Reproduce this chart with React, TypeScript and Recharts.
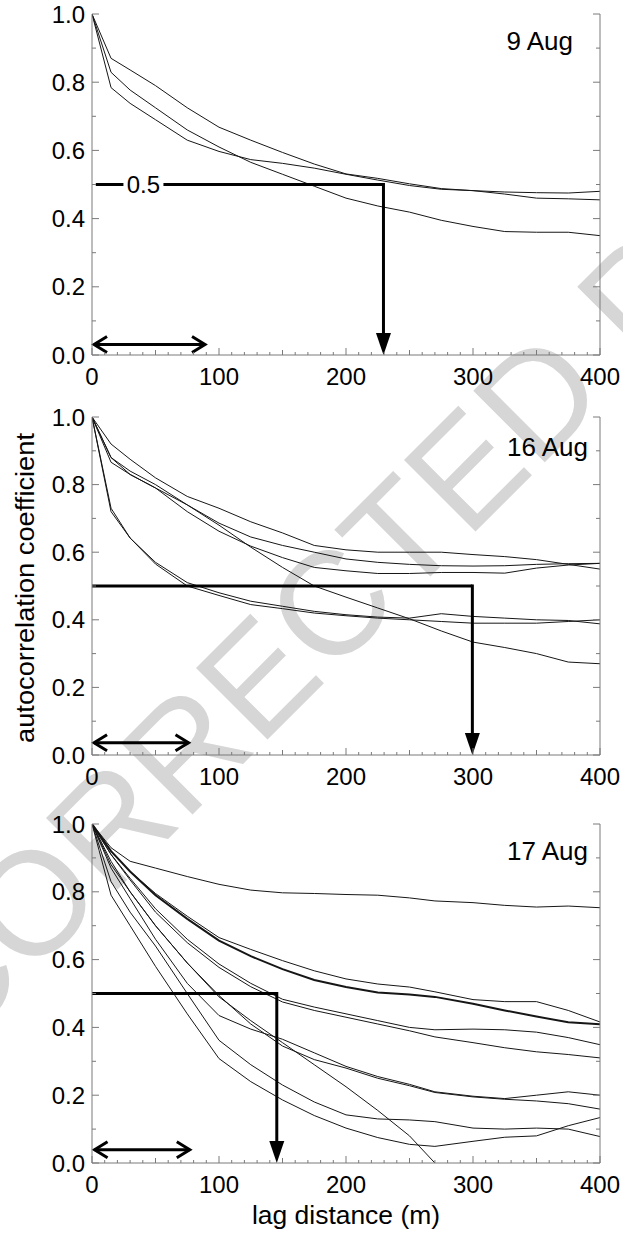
import React from 'react';
import { LineChart, Line, XAxis, YAxis, ReferenceLine, ReferenceDot } from 'recharts';

const FONT = '"Liberation Sans", Arial, Helvetica, sans-serif';
const INK = '#161616';
const FRAME = '#7a7a7a';

// ---------- data ----------
const yTicks = [0, 0.1, 0.2, 0.3, 0.4, 0.5, 0.6, 0.7, 0.8, 0.9, 1.0];
const xTicks = [0, 10, 20, 30, 40, 50, 60, 70, 80, 90, 100, 110, 120, 130, 140, 150, 160, 170, 180, 190, 200, 210, 220, 230, 240, 250, 260, 270, 280, 290, 300, 310, 320, 330, 340, 350, 360, 370, 380, 390, 400];

// 9 Aug
const lags9 = [0, 15, 30, 50, 75, 100, 125, 150, 175, 200, 225, 250, 275, 300, 325, 350, 375, 400];
const aug9_1 = [1, 0.870, 0.836, 0.79, 0.725, 0.668, 0.63, 0.594, 0.56, 0.531, 0.518, 0.502, 0.488, 0.482, 0.472, 0.46, 0.458, 0.455];
const aug9_2 = [1, 0.829, 0.777, 0.725, 0.66, 0.61, 0.565, 0.53, 0.495, 0.46, 0.437, 0.419, 0.395, 0.377, 0.362, 0.36, 0.36, 0.35];
const aug9_3 = [1, 0.784, 0.738, 0.69, 0.63, 0.597, 0.573, 0.562, 0.548, 0.53, 0.513, 0.497, 0.486, 0.482, 0.478, 0.476, 0.475, 0.48];

// 16 Aug
const lags16 = [0, 15, 30, 50, 75, 100, 125, 150, 175, 200, 225, 250, 275, 300, 325, 350, 375, 400];
const aug16_1 = [1, 0.92, 0.875, 0.82, 0.765, 0.73, 0.69, 0.657, 0.62, 0.607, 0.60, 0.60, 0.60, 0.593, 0.587, 0.578, 0.564, 0.55];
const aug16_2 = [1, 0.88, 0.84, 0.80, 0.74, 0.686, 0.645, 0.62, 0.60, 0.58, 0.57, 0.564, 0.56, 0.559, 0.56, 0.564, 0.566, 0.567];
const aug16_3 = [1, 0.866, 0.83, 0.79, 0.72, 0.662, 0.618, 0.584, 0.555, 0.545, 0.537, 0.537, 0.54, 0.54, 0.538, 0.553, 0.562, 0.567];
const aug16_4 = [1, 0.88, 0.83, 0.79, 0.74, 0.68, 0.615, 0.555, 0.50, 0.467, 0.435, 0.403, 0.367, 0.334, 0.318, 0.30, 0.275, 0.27];
const aug16_5 = [1, 0.73, 0.642, 0.57, 0.51, 0.48, 0.455, 0.44, 0.425, 0.415, 0.408, 0.405, 0.418, 0.41, 0.405, 0.40, 0.398, 0.388];
const aug16_6 = [1, 0.72, 0.642, 0.565, 0.50, 0.472, 0.445, 0.433, 0.42, 0.412, 0.405, 0.40, 0.395, 0.39, 0.39, 0.39, 0.395, 0.40];

// 17 Aug
const lags17 = [0, 15, 30, 50, 75, 100, 125, 150, 175, 200, 225, 250, 270, 300, 325, 350, 375, 400];
const aug17_1 = [1, 0.93, 0.89, 0.87, 0.845, 0.822, 0.805, 0.797, 0.795, 0.792, 0.79, 0.782, 0.773, 0.768, 0.76, 0.755, 0.758, 0.753];
const aug17_2 = [1, 0.92, 0.86, 0.79, 0.72, 0.656, 0.61, 0.572, 0.54, 0.519, 0.503, 0.497, 0.49, 0.47, 0.45, 0.432, 0.415, 0.409];
const aug17_3 = [1, 0.92, 0.86, 0.795, 0.728, 0.665, 0.63, 0.597, 0.567, 0.543, 0.528, 0.519, 0.505, 0.482, 0.476, 0.476, 0.45, 0.416];
const aug17_4 = [1, 0.91, 0.84, 0.75, 0.66, 0.587, 0.53, 0.483, 0.46, 0.44, 0.42, 0.40, 0.393, 0.395, 0.393, 0.386, 0.37, 0.349];
const aug17_5 = [1, 0.91, 0.835, 0.74, 0.65, 0.577, 0.52, 0.475, 0.45, 0.43, 0.41, 0.39, 0.372, 0.355, 0.34, 0.328, 0.32, 0.31];
const aug17_6 = [1, 0.87, 0.78, 0.66, 0.53, 0.435, 0.395, 0.365, 0.325, 0.285, 0.255, 0.232, 0.21, 0.197, 0.19, 0.2, 0.21, 0.2];
const aug17_7 = [1, 0.88, 0.80, 0.70, 0.59, 0.494, 0.41, 0.345, 0.305, 0.28, 0.25, 0.228, 0.208, 0.195, 0.188, 0.183, 0.175, 0.159];
const aug17_8 = [1, 0.89, 0.80, 0.70, 0.59, 0.49, 0.42, 0.355, 0.29, 0.225, 0.155, 0.08, 0, null, null, null, null, null];
const aug17_9 = [1, 0.83, 0.74, 0.64, 0.50, 0.362, 0.29, 0.23, 0.18, 0.142, 0.13, 0.127, 0.122, 0.103, 0.1, 0.103, 0.1, 0.078];
const aug17_10 = [1, 0.79, 0.70, 0.58, 0.44, 0.308, 0.24, 0.186, 0.14, 0.103, 0.075, 0.055, 0.049, 0.064, 0.076, 0.08, 0.11, 0.134];

// annotation values (lag in m, coefficient)
const halfValue = 0.5;
const crossLag9 = 229.5;
const crossLag16 = 299.5;
const crossLag17 = 145.5;
const scaleBar9 = [1.6, 89];
const scaleBar16 = [1.6, 76];
const scaleBar17 = [2, 77];
const scaleBarY = [0.031, 0.036, 0.039];

function buildData(lags: number[], series: (number | null)[][]) {
  return lags.map((x, i) => {
    const row: Record<string, number | null> = { x };
    series.forEach((s, k) => {
      row['s' + k] = s[i];
    });
    return row;
  });
}

// ---------- ticks ----------
const TM = 7;
const TICK_FS = 24;

const YTickLeft = (props: any) => {
  const { x, y, payload } = props;
  const v = Number(payload.value);
  const major = Math.round(v * 10) % 2 === 0;
  const ax = x + TM;
  return (
    <g>
      <line x1={ax} x2={ax + (major ? 7 : 4)} y1={y} y2={y} stroke={FRAME} strokeWidth={1} />
      {major ? (
        <text x={x} y={y} dy="0.36em" textAnchor="end" fontSize={TICK_FS} fontFamily={FONT} fill="#000">
          {v.toFixed(1)}
        </text>
      ) : null}
    </g>
  );
};

const YTickRight = (props: any) => {
  const { x, y, payload } = props;
  const v = Number(payload.value);
  const major = Math.round(v * 10) % 2 === 0;
  const ax = x - TM;
  return <line x1={ax} x2={ax - (major ? 7 : 4)} y1={y} y2={y} stroke={FRAME} strokeWidth={1} />;
};

const xLen = (v: number) => (v % 100 === 0 ? 7 : v % 50 === 0 ? 5 : 3);

const XTickBottom = (props: any) => {
  const { x, y, payload } = props;
  const v = Number(payload.value);
  const ay = y - TM;
  return (
    <g>
      <line x1={x} x2={x} y1={ay} y2={ay - xLen(v)} stroke={FRAME} strokeWidth={1} />
      {v % 100 === 0 ? (
        <text x={x} y={ay + 30} textAnchor="middle" fontSize={TICK_FS} fontFamily={FONT} fill="#000">
          {v}
        </text>
      ) : null}
    </g>
  );
};

const XTickTop = (props: any) => {
  const { x, y, payload } = props;
  const v = Number(payload.value);
  const ay = y + TM;
  return <line x1={x} x2={x} y1={ay} y2={ay + xLen(v)} stroke={FRAME} strokeWidth={1} />;
};

// ---------- annotation shapes ----------
const PlainThick = (props: any) => {
  const { x1, y1, x2, y2 } = props;
  return <line x1={x1} y1={y1} x2={x2} y2={y2} stroke="#000" strokeWidth={3} />;
};

const DownArrow = (props: any) => {
  const { x1, y1, x2, y2 } = props;
  const hl = 22;
  const hw = 7.5;
  return (
    <g>
      <line x1={x1} y1={y1 - 1.5} x2={x2} y2={y2 - hl + 2} stroke="#000" strokeWidth={3} />
      <polygon points={`${x2},${y2} ${x2 - hw},${y2 - hl} ${x2 + hw},${y2 - hl}`} fill="#000" />
    </g>
  );
};

const DoubleArrow = (props: any) => {
  const { x1, y1, x2, y2 } = props;
  const hl = 13;
  const hw = 8;
  return (
    <g fill="none" stroke="#000" strokeWidth={3} strokeLinejoin="miter">
      <line x1={x1} y1={y1} x2={x2} y2={y2} />
      <polyline points={`${x1 + hl},${y1 - hw} ${x1},${y1} ${x1 + hl},${y1 + hw}`} />
      <polyline points={`${x2 - hl},${y2 - hw} ${x2},${y2} ${x2 - hl},${y2 + hw}`} />
    </g>
  );
};

const HalfLabel = (props: any) => {
  const { cx, cy } = props;
  return (
    <g>
      <rect x={cx - 20} y={cy - 4} width={40} height={8} fill="#fff" />
      <text x={cx} y={cy} dy="0.36em" textAnchor="middle" fontSize={TICK_FS} fontFamily={FONT} fill="#000">
        0.5
      </text>
    </g>
  );
};

// ---------- panel ----------
type PanelProps = {
  top: number;
  height: number;
  marginTop: number;
  data: Record<string, number | null>[];
  count: number;
  thick?: number;
  crossLag: number;
  halfStart: number;
  bar: number[];
  barY: number;
  halfLabel?: boolean;
};

function Panel(p: PanelProps) {
  const lines = [];
  for (let k = 0; k < p.count; k++) {
    lines.push(
      <Line
        key={k}
        xAxisId="b"
        yAxisId="l"
        dataKey={'s' + k}
        type="linear"
        stroke={INK}
        strokeWidth={p.thick === k ? 2 : 1}
        dot={false}
        activeDot={false}
        connectNulls={false}
        isAnimationActive={false}
      />
    );
  }
  return (
    <div style={{ position: 'absolute', left: 0, top: p.top, width: 623, height: p.height }}>
      <LineChart
        width={623}
        height={p.height}
        data={p.data}
        margin={{ top: p.marginTop, right: 0, bottom: 0, left: 0 }}
      >
        <XAxis
          xAxisId="b"
          dataKey="x"
          type="number"
          domain={[0, 400]}
          ticks={xTicks}
          interval={0}
          allowDataOverflow
          height={45}
          tickSize={0}
          tickMargin={TM}
          tickLine={false}
          axisLine={{ stroke: FRAME, strokeWidth: 1 }}
          tick={<XTickBottom />}
        />
        <XAxis
          xAxisId="t"
          orientation="top"
          dataKey="x"
          type="number"
          domain={[0, 400]}
          ticks={xTicks}
          interval={0}
          allowDataOverflow
          height={0}
          tickSize={0}
          tickMargin={TM}
          tickLine={false}
          axisLine={{ stroke: FRAME, strokeWidth: 1 }}
          tick={<XTickTop />}
        />
        <YAxis
          yAxisId="l"
          type="number"
          domain={[0, 1]}
          ticks={yTicks}
          interval={0}
          allowDataOverflow
          width={92}
          tickSize={0}
          tickMargin={TM}
          tickLine={false}
          axisLine={{ stroke: FRAME, strokeWidth: 1 }}
          tick={<YTickLeft />}
        />
        <YAxis
          yAxisId="r"
          orientation="right"
          type="number"
          domain={[0, 1]}
          ticks={yTicks}
          interval={0}
          allowDataOverflow
          width={23}
          tickSize={0}
          tickMargin={TM}
          tickLine={false}
          axisLine={{ stroke: FRAME, strokeWidth: 1 }}
          tick={<YTickRight />}
        />
        {lines}
        <ReferenceLine
          xAxisId="b"
          yAxisId="l"
          segment={[
            { x: p.halfStart, y: halfValue },
            { x: p.crossLag, y: halfValue },
          ]}
          shape={PlainThick}
          ifOverflow="visible"
        />
        <ReferenceLine
          xAxisId="b"
          yAxisId="l"
          segment={[
            { x: p.crossLag, y: halfValue },
            { x: p.crossLag, y: 0 },
          ]}
          shape={DownArrow}
          ifOverflow="visible"
        />
        <ReferenceLine
          xAxisId="b"
          yAxisId="l"
          segment={[
            { x: p.bar[0], y: p.barY },
            { x: p.bar[1], y: p.barY },
          ]}
          shape={DoubleArrow}
          ifOverflow="visible"
        />
        {p.halfLabel ? (
          <ReferenceDot xAxisId="b" yAxisId="l" x={40.5} y={halfValue} r={0} shape={HalfLabel} ifOverflow="visible" />
        ) : null}
      </LineChart>
    </div>
  );
}

const data9 = buildData(lags9, [aug9_1, aug9_2, aug9_3]);
const data16 = buildData(lags16, [aug16_1, aug16_2, aug16_3, aug16_4, aug16_5, aug16_6]);
const data17 = buildData(lags17, [aug17_1, aug17_2, aug17_3, aug17_4, aug17_5, aug17_6, aug17_7, aug17_8, aug17_9, aug17_10]);

export default function App() {
  return (
    <div style={{ position: 'absolute', left: 0, top: 0, width: 623, height: 1235, background: '#fff', overflow: 'hidden' }}>
      <svg width={623} height={1235} style={{ position: 'absolute', left: 0, top: 0 }}>
        <text
          x={-47}
          y={1054}
          transform="rotate(-45 -47 1054)"
          fontSize={147}
          fontFamily={FONT}
          fill="#d6d6d6"
        >
          CORRECTED PROOF
        </text>
        <text x={573} y={50} textAnchor="end" fontSize={26} fontFamily={FONT} fill="#000">9 Aug</text>
        <text x={588} y={456} textAnchor="end" fontSize={26} fontFamily={FONT} fill="#000">16 Aug</text>
        <text x={588} y={860} textAnchor="end" fontSize={26} fontFamily={FONT} fill="#000">17 Aug</text>
        <text
          x={25}
          y={588}
          transform="rotate(-90 25 588)"
          textAnchor="middle"
          dy="0.36em"
          fontSize={25}
          textLength={310}
          lengthAdjust="spacingAndGlyphs"
          fontFamily={FONT}
          fill="#000"
        >
          autocorrelation coefficient
        </text>
        <text
          x={346}
          y={1224}
          textAnchor="middle"
          fontSize={26}
          textLength={188}
          lengthAdjust="spacingAndGlyphs"
          fontFamily={FONT}
          fill="#000"
        >
          lag distance (m)
        </text>
      </svg>
      <Panel top={0} height={400} marginTop={14} data={data9} count={3} crossLag={crossLag9} halfStart={3} bar={scaleBar9} barY={scaleBarY[0]} halfLabel />
      <Panel top={400} height={400} marginTop={17} data={data16} count={6} crossLag={crossLag16} halfStart={0} bar={scaleBar16} barY={scaleBarY[1]} />
      <Panel top={800} height={408} marginTop={24} data={data17} count={10} thick={1} crossLag={crossLag17} halfStart={0} bar={scaleBar17} barY={scaleBarY[2]} />
    </div>
  );
}
